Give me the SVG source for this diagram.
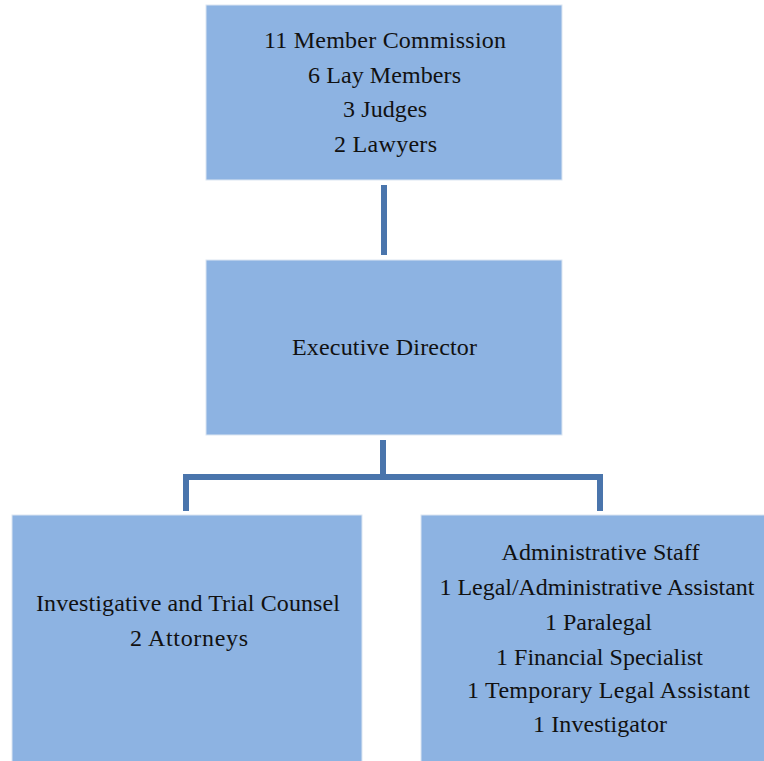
<svg xmlns="http://www.w3.org/2000/svg" width="764" height="761" viewBox="0 0 764 761">
<style>
.box{fill:#8DB3E2;stroke:#DCE6F2;stroke-width:1}
.t{font-family:"Liberation Serif","Times New Roman",serif;font-size:24px;fill:#111}
.conn{fill:none;stroke:#4A75AC;stroke-width:6;stroke-linejoin:miter}
</style>
<rect width="764" height="761" fill="#FFFFFF"/>
<g id="connectors">
<line class="conn" x1="384" y1="185" x2="384" y2="255"/>
<line class="conn" x1="383" y1="440" x2="383" y2="477"/>
<polyline class="conn" points="186,511 186,477 600,477 600,511"/>
</g>
<g id="commission">
<rect class="box" x="206" y="5" width="356" height="175"/>
<text class="t" x="264" y="48" textLength="242" lengthAdjust="spacing">11 Member Commission</text>
<text class="t" x="308" y="82.5" textLength="153" lengthAdjust="spacing">6 Lay Members</text>
<text class="t" x="343" y="117" textLength="84" lengthAdjust="spacing">3 Judges</text>
<text class="t" x="334" y="151.5" textLength="103" lengthAdjust="spacing">2 Lawyers</text>
</g>
<g id="executive-director">
<rect class="box" x="206" y="260" width="356" height="175"/>
<text class="t" x="292" y="355" textLength="185" lengthAdjust="spacing">Executive Director</text>
</g>
<g id="investigative-counsel">
<rect class="box" x="12" y="515" width="350" height="250"/>
<text class="t" x="36" y="610.5" textLength="304" lengthAdjust="spacing">Investigative and Trial Counsel</text>
<text class="t" x="130" y="645.5" textLength="118" lengthAdjust="spacing">2 Attorneys</text>
</g>
<g id="administrative-staff">
<rect class="box" x="421" y="515" width="360" height="250"/>
<text class="t" x="501.5" y="560" textLength="198" lengthAdjust="spacing">Administrative Staff</text>
<text class="t" x="439.5" y="595" textLength="315" lengthAdjust="spacing">1 Legal/Administrative Assistant</text>
<text class="t" x="545" y="630" textLength="107" lengthAdjust="spacing">1 Paralegal</text>
<text class="t" x="496" y="665" textLength="207" lengthAdjust="spacing">1 Financial Specialist</text>
<text class="t" x="467" y="698" textLength="283" lengthAdjust="spacing">1 Temporary Legal Assistant</text>
<text class="t" x="533" y="732" textLength="134" lengthAdjust="spacing">1 Investigator</text>
</g>
</svg>
